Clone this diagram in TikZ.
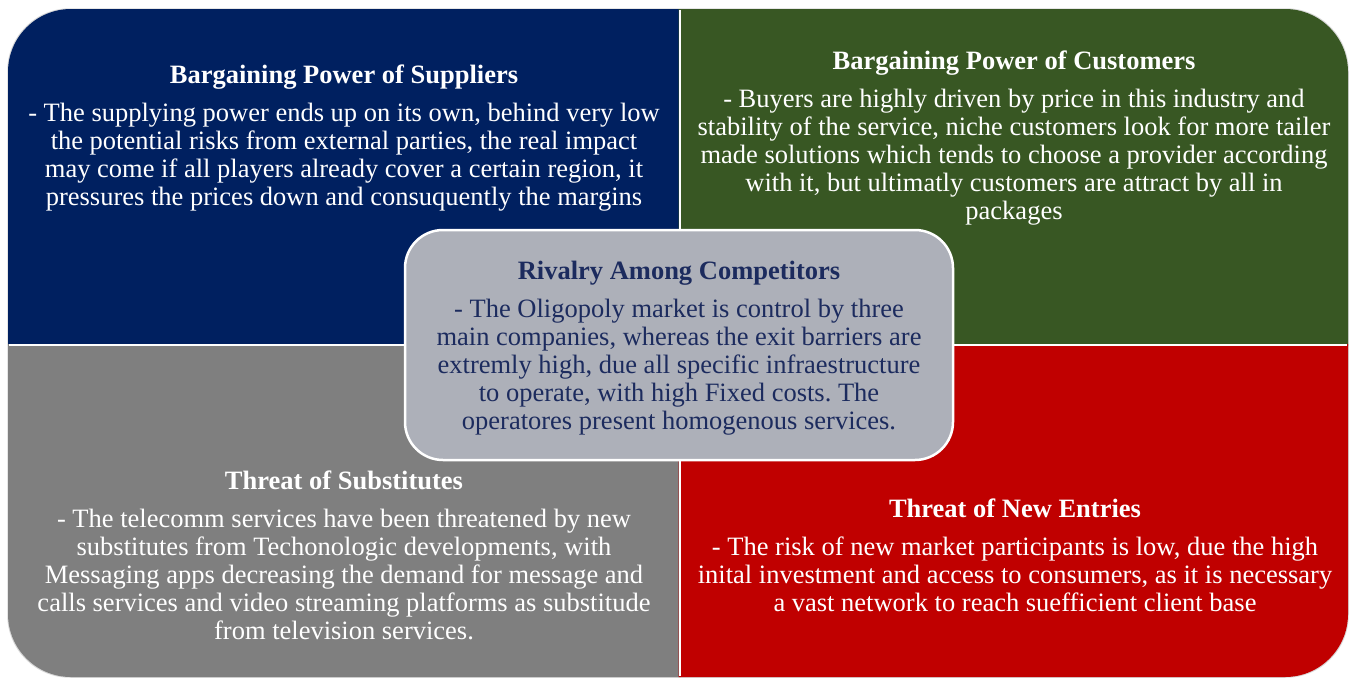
\documentclass[tikz,border=0pt]{standalone}
\usepackage{fontspec}
\setmainfont{Liberation Serif}
\frenchspacing
\definecolor{suppliers}{HTML}{002060}
\definecolor{customers}{HTML}{385723}
\definecolor{substitutes}{HTML}{7F7F7F}
\definecolor{entries}{HTML}{C00000}
\definecolor{rivalfill}{HTML}{ADB0B9}
\definecolor{rivaltext}{HTML}{1C2B5E}
\tikzset{quad/.style={draw=white, line width=2pt}}
\tikzset{force/.style={align=center, inner sep=0pt, anchor=north, text=white,
   font=\fontsize{26.5}{28}\selectfont}}

\begin{document}
\begin{tikzpicture}[x=1pt, y=-1pt]
  \useasboundingbox (0,0) rectangle (1349,678);

  % outer shadow line
  \draw[gray!30, line width=1.5pt, rounded corners=62] (8,9) rectangle (1348,677);

  % the four quadrants
  \fill[quad, suppliers] (9,345) [rounded corners=62] -- (9,10) [sharp corners] -- (679.5,10) -- (679.5,345) -- cycle;
  \fill[quad, customers] (679.5,10) [rounded corners=62] -- (1347,10) [sharp corners] -- (1347,345) -- (679.5,345) -- cycle;
  \fill[quad, substitutes] (679.5,345) -- (679.5,676) [rounded corners=62] -- (9,676) [sharp corners] -- (9,345) -- cycle;
  \fill[quad, entries] (1347,345) [rounded corners=62] -- (1347,676) [sharp corners] -- (679.5,676) -- (679.5,345) -- cycle;
  \draw[quad] (679.5,10) -- (679.5,676);
  \draw[quad] (9,345) -- (1347,345);

  \node[force] (supp) at (344,64.5) {\textbf{Bargaining Power of Suppliers}\\[10pt]
    - The supplying power ends up on its own, behind very low\\
    the potential risks from external parties, the real impact\\
    may come if all players already cover a certain region, it\\
    pressures the prices down and consuquently the margins};

  \node[force] (cust) at (1014,50.5) {\textbf{Bargaining Power of Customers}\\[10pt]
    - Buyers are highly driven by price in this industry and\\
    stability of the service, niche customers look for more tailer\\
    made solutions which tends to choose a provider according\\
    with it, but ultimatly customers are attract by all in\\
    packages};

  \node[force] (subs) at (344,470.5) {\textbf{Threat of Substitutes}\\[10pt]
    - The telecomm services have been threatened by new\\
    substitutes from Techonologic developments, with\\
    Messaging apps decreasing the demand for message and\\
    calls services and video streaming platforms as substitude\\
    from television services.};

  \node[force] (entr) at (1015,498.5) {\textbf{Threat of New Entries}\\[10pt]
    - The risk of new market participants is low, due the high\\
    inital investment and access to consumers, as it is necessary\\
    a vast network to reach suefficient client base};

  % rivalry box on top of the crossing
  \draw[rivalfill, fill=rivalfill, draw=white, line width=2.5pt, rounded corners=38]
    (405,230) rectangle (953,460);
  \node[force, text=rivaltext] (riva) at (679,260.5) {\textbf{Rivalry Among Competitors}\\[10pt]
    - The Oligopoly market is control by three\\
    main companies, whereas the exit barriers are\\
    extremly high, due all specific infraestructure\\
    to operate, with high Fixed costs. The\\
    operatores present homogenous services.};

\end{tikzpicture}
\end{document}
